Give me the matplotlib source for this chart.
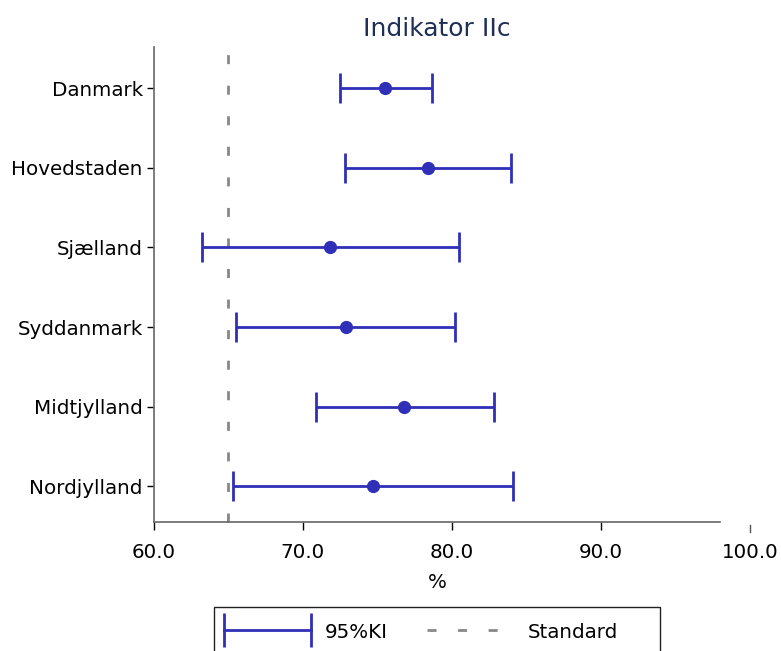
import matplotlib
matplotlib.use("Agg")
import matplotlib.pyplot as plt
from matplotlib.lines import Line2D
from matplotlib.patches import Rectangle
import matplotlib.transforms as mtransforms

regions = ["Danmark", "Hovedstaden", "Sjælland", "Syddanmark", "Midtjylland", "Nordjylland"]
estimate = [75.5, 78.4, 71.8, 72.9, 76.8, 74.7]
ci_low = [72.5, 72.8, 63.2, 65.5, 70.9, 65.3]
ci_high = [78.7, 84.0, 80.5, 80.2, 82.8, 84.1]
standard = 65.0
xticks = [60, 70, 80, 90, 100]

blue = "#2f2fb8"
grey = "#888888"
fs = 14.3

plt.rcParams["font.family"] = "DejaVu Sans"
plt.rcParams["lines.scale_dashes"] = False

fig = plt.figure(figsize=(7.81, 6.51), dpi=100)
ax = fig.add_axes([0.197, 0.198, 0.725, 0.730])

ypos = list(range(len(regions)))
xerr = [[e - lo for e, lo in zip(estimate, ci_low)],
        [hi - e for e, hi in zip(estimate, ci_high)]]
ax.errorbar(estimate, ypos, xerr=xerr, fmt="o", color=blue, ms=8.5,
            elinewidth=2, capsize=11, capthick=2, zorder=3)

ax.axvline(standard, color=grey, lw=2, dashes=(6.5, 15.5), zorder=1)

ax.set_xlim(60, 98.0)
ax.set_ylim(5.45, -0.52)
ax.set_yticks(ypos)
ax.set_yticklabels(regions, fontsize=fs)
ax.set_xticks(xticks[:-1])
ax.set_xticklabels([f"{v:.1f}" for v in xticks[:-1]], fontsize=fs)
ax.set_xlabel("%", fontsize=fs, labelpad=8)

for side in ["top", "right"]:
    ax.spines[side].set_visible(False)
for side in ["left", "bottom"]:
    ax.spines[side].set_color("#666666")
    ax.spines[side].set_linewidth(1.2)
ax.tick_params(axis="y", length=5, width=1, pad=3)
ax.tick_params(axis="x", length=6, width=1, pad=9)

# last tick sits beyond the end of the axis line
trans = mtransforms.blended_transform_factory(ax.transData, ax.transAxes)
ax.plot([xticks[-1], xticks[-1]], [-0.006, -0.021], color="#555555", lw=1,
        transform=trans, clip_on=False)
ax.annotate(f"{xticks[-1]:.1f}", xy=(xticks[-1], 0), xycoords=trans,
            xytext=(0, -15), textcoords="offset points", ha="center",
            va="top", fontsize=fs, annotation_clip=False)

# small mark for the standard on the axis line
ax.plot([standard, standard], [0, 0.012], color=grey, lw=1.2,
        transform=trans, clip_on=False)

ax.set_title("Indikator IIc", fontsize=18, color="#1f2f55", pad=8)

# legend box runs off the bottom edge
fig.patches.append(Rectangle((214 / 781, -0.05), (660 - 214) / 781, 0.05 + 1 - 607 / 651,
                             transform=fig.transFigure, fill=False,
                             edgecolor="#222222", lw=1))

handles = [Line2D([0], [0], color=blue, lw=2, marker="|", ms=24, mew=2),
           Line2D([0], [0], color=grey, lw=2, dashes=(6.5, 15.5))]
leg = fig.legend(handles, ["95%KI", "Standard"], ncol=2, loc="center left",
                 bbox_to_anchor=(218 / 781, 1 - 632 / 651), fontsize=fs,
                 numpoints=2, handlelength=5.0, handletextpad=0.35,
                 columnspacing=1.7, frameon=False, borderpad=0,
                 borderaxespad=0, handleheight=1.0)

fig.savefig("out.png", dpi=100)
